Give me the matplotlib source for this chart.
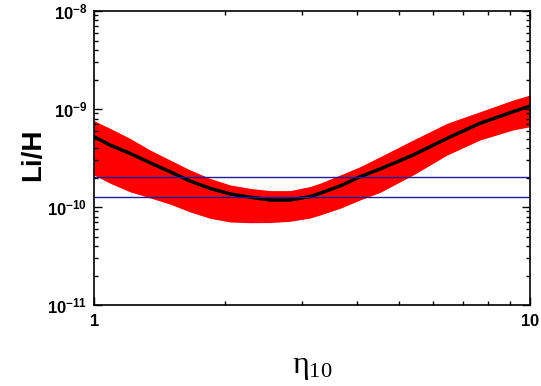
import numpy as np
import matplotlib.pyplot as plt
from matplotlib.ticker import LogLocator, FixedLocator, NullFormatter

plt.rcParams['mathtext.fontset'] = 'custom'
plt.rcParams['mathtext.rm'] = 'Liberation Serif'
plt.rcParams['mathtext.it'] = 'Liberation Serif'
plt.rcParams['mathtext.bf'] = 'Liberation Sans:bold'

# values
eta = [1.0, 1.088, 1.209, 1.344, 1.494, 1.661, 1.845, 2.051, 2.28, 2.534,
       2.816, 3.13, 3.299, 3.667, 4.075, 4.529, 5.391, 6.451, 7.68, 9.142, 10.0]
li_center = [5.22e-10, 4.29e-10, 3.53e-10, 2.83e-10, 2.29e-10, 1.84e-10, 1.55e-10,
             1.36e-10, 1.26e-10, 1.18e-10, 1.18e-10, 1.28e-10, 1.38e-10, 1.64e-10,
             2.04e-10, 2.44e-10, 3.39e-10, 5.02e-10, 7.15e-10, 9.39e-10, 1.073e-9]
li_upper = [7.6e-10, 6.35e-10, 5.02e-10, 3.82e-10, 3.02e-10, 2.39e-10, 1.96e-10,
            1.68e-10, 1.55e-10, 1.47e-10, 1.47e-10, 1.62e-10, 1.75e-10, 2.12e-10,
            2.58e-10, 3.26e-10, 4.83e-10, 7.15e-10, 9.39e-10, 1.236e-9, 1.39e-9]
li_lower = [2.12e-10, 1.75e-10, 1.43e-10, 1.24e-10, 1.07e-10, 8.9e-11, 7.67e-11,
            7.03e-11, 6.92e-11, 6.94e-11, 7.15e-11, 7.72e-11, 8.29e-11, 9.7e-11,
            1.18e-10, 1.41e-10, 2.12e-10, 3.39e-10, 4.83e-10, 6.11e-10, 6.6e-10]
obs_levels = [2.02e-10, 1.26e-10]

fig = plt.figure(figsize=(5.41, 3.86), dpi=100)
ax = fig.add_axes([0.1738, 0.2098, 0.806, 0.7617])

ax.fill_between(eta, li_lower, li_upper, color='red', lw=0)
ax.plot(eta, li_center, color='black', lw=2.5)
for lev in obs_levels:
    ax.axhline(lev, color='#1c1c9c', lw=1)

ax.set_xscale('log')
ax.set_yscale('log')
ax.set_xlim(1, 10)
ax.set_ylim(1e-11, 1e-8)

ax.xaxis.set_major_locator(FixedLocator([1, 10]))
ax.set_xticklabels([r'$\mathbf{1}$', r'$\mathbf{10}$'])
ax.xaxis.set_minor_locator(LogLocator(subs=np.arange(2, 10)))
ax.xaxis.set_minor_formatter(NullFormatter())
ax.yaxis.set_major_locator(FixedLocator([1e-11, 1e-10, 1e-9, 1e-8]))
ax.set_yticklabels([r'$\mathbf{10^{-11}}$', r'$\mathbf{10^{-10}}$', r'$\mathbf{10^{-9}}$', r'$\mathbf{10^{-8}}$'])
ax.yaxis.set_minor_locator(LogLocator(subs=np.arange(2, 10)))
ax.yaxis.set_minor_formatter(NullFormatter())

ax.tick_params(which='both', direction='in', top=True, right=True, width=1)
ax.tick_params(which='major', length=6, labelsize=12, pad=5)
ax.tick_params(which='minor', length=3)
for s in ax.spines.values():
    s.set_linewidth(1.2)

fig.text(0.061, 0.598, 'Li/H', rotation=90, fontsize=20, fontweight='bold',
         family='Liberation Sans', ha='center', va='center')
fig.text(0.577, 0.05, r'$\mathrm{\eta_{10}}$', fontsize=23, ha='center', va='center')

fig.savefig('out.png', dpi=100)
